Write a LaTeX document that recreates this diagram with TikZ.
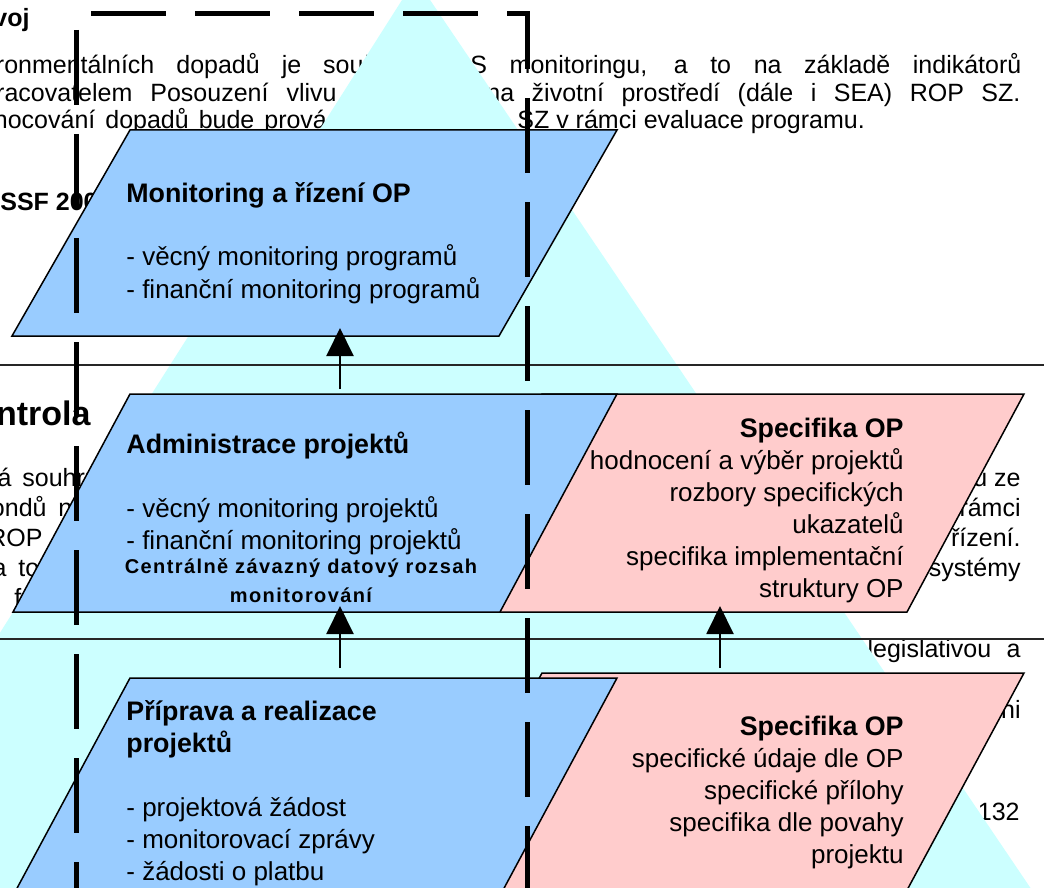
\documentclass[tikz,border=0pt]{standalone}
\usepackage{fontspec}
\setmainfont{Liberation Sans}
\usetikzlibrary{arrows.meta}
\definecolor{cyanbg}{HTML}{CCFFFF}
\definecolor{bluebox}{HTML}{99CCFF}
\definecolor{pinkbox}{HTML}{FFCCCC}
\newcommand{\pgtxt}{\fontsize{12.5}{14}\selectfont}
\newcommand{\boxtxt}{\fontsize{13}{16}\selectfont}
\newcommand{\hdr}[1]{{\fontsize{13.4}{16}\selectfont\bfseries #1}}
\newcommand{\smallbold}{\fontsize{10}{14.5}\selectfont\bfseries\addfontfeatures{LetterSpace=7}}
\begin{document}
\begin{tikzpicture}[x=0.5pt,y=-0.5pt,
  pg/.style={inner sep=0pt,font=\pgtxt,anchor=base west},
  pge/.style={pg,anchor=base east},
  pgb/.style={pg,font=\pgtxt\bfseries},
  pgbe/.style={pge,font=\pgtxt\bfseries},
  bluebx/.style={fill=bluebox,draw=black,line width=0.75pt,line join=miter},
  pinkbx/.style={fill=pinkbox,draw=black,line width=0.75pt,line join=miter},
  boxtext/.style={inner sep=0pt,font=\boxtxt,anchor=base west},
  boxtextr/.style={inner sep=0pt,font=\boxtxt,anchor=base east},
  rule/.style={draw=black!85,line width=0.8pt},
  frameline/.style={line width=2.5pt,dash pattern=on 37.5pt off 14.5pt,line join=miter},
  uparrow/.style={line width=1pt,-{Triangle[length=14pt,width=13.5pt]}}]
\useasboundingbox (0,0) rectangle (1044,888);
\clip (0,0) rectangle (1044,888);
\fill[white] (0,0) rectangle (1044,888);
% background page text
\node[pgbe] (voj) at (30,27) {rozvoj};
\node[pg] (l1a) at (154,74) {\llap{environmentálních}\hspace{11pt}dopadů\hspace{11pt}je\hspace{11pt}součástí};
\node[pg] (l1e) at (470,74) {\makebox[275.5pt][s]{S monitoringu, a to na základě indikátorů}};
\node[pg] (l2a) at (132,102) {\llap{zpracovatelem}\hspace{9pt}Posouzení\hspace{9pt}vlivu};
\node[pg] (l2d) at (486,102) {\makebox[267pt][s]{na životní prostředí (dále i SEA) ROP SZ.}};
\node[pg] (l3a) at (95,128) {\llap{Vyhodnocování}\hspace{5pt}dopadů\hspace{5pt}bude\hspace{5pt}prováděno};
\node[pg] (l3e) at (517,128) {SZ v rámci evaluace programu.};
\node[pgb] (ssf) at (0,210) {SSF 2007};
\node[pge,font=\fontsize{17}{20}\selectfont\bfseries] (ntrola) at (91,425) {Kontrola};
\node[pge] (l5a) at (12,486) {má};
\node[pg] (l5b) at (22,486) {souhrnný};
\node[pge] (l6a) at (47,516) {fondů};
\node[pg] (l6b) at (58,516) {na};
\node[pge] (l7a) at (43,546) {ROP};
\node[pge] (l8a) at (7,576) {a};
\node[pg] (l8b) at (18,576) {to};
\node[pg] (l9a) at (14,606) {f};
\node[pge] (r5) at (1021,486) {fondu ze};
\node[pge] (r6) at (1021,516) {rámci};
\node[pge] (r7) at (1021,546) {řízení.};
\node[pge] (r8) at (1021,576) {systémy};
\node[pge] (r10) at (1021,657) {\makebox[76.5pt][s]{legislativou a}};
\node[pge] (r12) at (1021,718) {ni};
\node[pge] (pgno) at (1020,820) {132};
% cyan triangle
\fill[cyanbg] (415.6,-21.4) -- (1042,905) -- (-173,905) -- cycle;
% page rules
\draw[rule] (0,365) -- (1044,365);
\draw[rule] (0,639) -- (1044,639);
% shapes
\draw[pinkbx] (542,394) -- (1024,394) -- (907,612) -- (425,612) -- cycle;
\draw[pinkbx] (542,673) -- (1024,673) -- (899,905) -- (417,905) -- cycle;
\draw[bluebx] (130,130) -- (617,130) -- (499,336) -- (12,336) -- cycle;
\draw[bluebx] (130,394) -- (617,394) -- (500,612) -- (13,612) -- cycle;
\draw[bluebx] (130,678) -- (617,678) -- (495,905) -- (8,905) -- cycle;
% box texts
\node[boxtext] (mon) at (126,202) {\begin{tabular}[t]{@{}l@{}}\hdr{Monitoring a řízení OP}\\ \\- věcný monitoring programů\\- finanční monitoring programů\end{tabular}};
\node[boxtext] (adm) at (126,453) {\begin{tabular}[t]{@{}l@{}}\hdr{Administrace projektů}\\ \\- věcný monitoring projektů\\- finanční monitoring projektů\end{tabular}};
\node[inner sep=0pt,anchor=base,font=\smallbold] (cen) at (301,573) {\begin{tabular}[t]{@{}c@{}}Centrálně závazný datový rozsah\\monitorování\end{tabular}};
\node[boxtext] (pri) at (126,720) {\begin{tabular}[t]{@{}l@{}}\hdr{Příprava a realizace}\\\hdr{projektů}\\ \\- projektová žádost\\- monitorovací zprávy\\- žádosti o platbu\end{tabular}};
\node[boxtextr] (spa) at (904,437) {\begin{tabular}[t]{@{}r@{}}\hdr{Specifika OP}\\hodnocení a výběr projektů\\rozbory specifických\\ukazatelů\\specifika implementační\\struktury OP\end{tabular}};
\node[boxtextr] (spb) at (904,735) {\begin{tabular}[t]{@{}r@{}}\hdr{Specifika OP}\\specifické údaje dle OP\\specifické přílohy\\specifika dle povahy\\projektu\end{tabular}};
% dashed frame
\draw[frameline] (76,30) -- (76,905);
\draw[frameline] (91,14) -- (527,14) -- (527,905);
% arrows
\coordinate (a1s) at (340,389); \coordinate (a1e) at (340,328);
\coordinate (a2s) at (340,668); \coordinate (a2e) at (340,606);
\coordinate (a3s) at (720,668); \coordinate (a3e) at (720,606);
\draw[uparrow] (a1s) -- (a1e);
\draw[uparrow] (a2s) -- (a2e);
\draw[uparrow] (a3s) -- (a3e);
\end{tikzpicture}
\end{document}
